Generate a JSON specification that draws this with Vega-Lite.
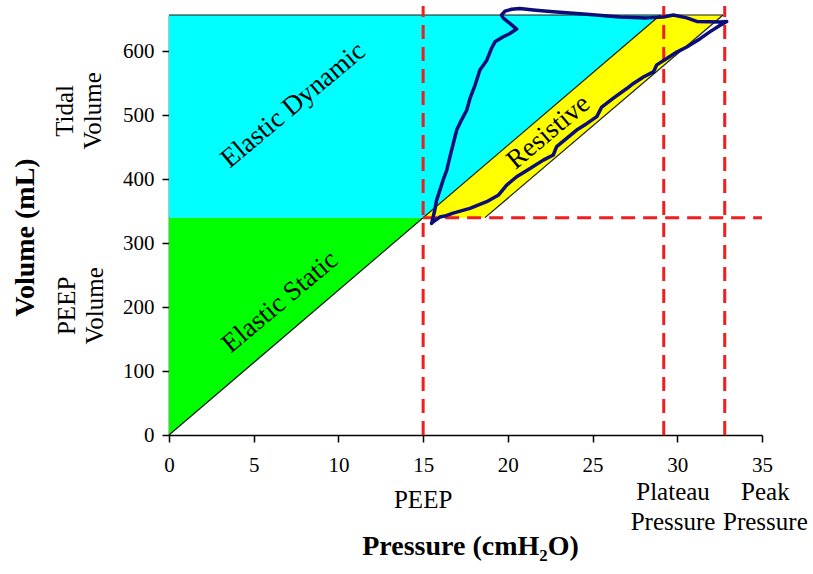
{
  "$schema": "https://vega.github.io/schema/vega-lite/v6.json",
  "width": 593,
  "height": 420,
  "autosize": {"type": "none"},
  "padding": {"left": 169, "top": 15, "right": 51, "bottom": 139},
  "background": "white",
  "config": {
    "font": "Liberation Serif",
    "view": {"stroke": null},
    "axis": {
      "grid": false,
      "domainColor": "black",
      "domainWidth": 1.5,
      "tickColor": "black",
      "tickWidth": 1.5,
      "tickSize": 7,
      "labelFont": "Liberation Serif",
      "labelFontSize": 21,
      "labelColor": "black",
      "labelFlush": false,
      "titleFont": "Liberation Serif",
      "titleFontSize": 28,
      "titleFontWeight": "bold",
      "titleColor": "black"
    }
  },
  "datasets": {
    "regions": [
      {"r": "static", "v": 0, "lo": 0, "hi": 0},
      {"r": "static", "v": 340, "lo": 0, "hi": 15},
      {"r": "dynamic", "v": 340, "lo": 0, "hi": 15},
      {"r": "dynamic", "v": 657, "lo": 0, "hi": 29},
      {"r": "resistive", "v": 340, "lo": 15, "hi": 18.65},
      {"r": "resistive", "v": 657, "lo": 29, "hi": 32.7}
    ],
    "outlines": [
      {"x": 0, "y": 0, "x2": 29, "y2": 657},
      {"x": 0, "y": 657, "x2": 32.7, "y2": 657},
      {"x": 18.65, "y": 340, "x2": 32.7, "y2": 657}
    ],
    "dashes": [
      {"x": 15, "y": 0, "x2": 15, "y2": 671},
      {"x": 29.2, "y": 0, "x2": 29.2, "y2": 671},
      {"x": 32.8, "y": 0, "x2": 32.8, "y2": 671},
      {"x": 15, "y": 340, "x2": 35, "y2": 340}
    ],
    "loop": [
      {"i": 1, "p": 15.50, "v": 331},
      {"i": 2, "p": 15.69, "v": 352},
      {"i": 3, "p": 15.79, "v": 367},
      {"i": 4, "p": 15.99, "v": 383},
      {"i": 5, "p": 16.18, "v": 399},
      {"i": 6, "p": 16.39, "v": 414},
      {"i": 7, "p": 16.58, "v": 435},
      {"i": 8, "p": 16.78, "v": 456},
      {"i": 9, "p": 16.98, "v": 477},
      {"i": 10, "p": 17.27, "v": 493},
      {"i": 11, "p": 17.57, "v": 508},
      {"i": 12, "p": 17.76, "v": 526},
      {"i": 13, "p": 18.06, "v": 547},
      {"i": 14, "p": 18.35, "v": 571},
      {"i": 15, "p": 18.75, "v": 586},
      {"i": 16, "p": 19.04, "v": 605},
      {"i": 17, "p": 19.24, "v": 615},
      {"i": 18, "p": 19.73, "v": 623},
      {"i": 19, "p": 20.12, "v": 628},
      {"i": 20, "p": 20.52, "v": 635},
      {"i": 21, "p": 20.12, "v": 644},
      {"i": 22, "p": 19.73, "v": 652},
      {"i": 23, "p": 19.63, "v": 657},
      {"i": 24, "p": 19.83, "v": 663},
      {"i": 25, "p": 20.22, "v": 666},
      {"i": 26, "p": 20.71, "v": 667},
      {"i": 27, "p": 21.50, "v": 665},
      {"i": 28, "p": 22.68, "v": 662},
      {"i": 29, "p": 24.65, "v": 658},
      {"i": 30, "p": 26.62, "v": 654},
      {"i": 31, "p": 28.20, "v": 652.5},
      {"i": 32, "p": 29.18, "v": 654},
      {"i": 33, "p": 29.77, "v": 657},
      {"i": 34, "p": 30.56, "v": 652.5},
      {"i": 35, "p": 31.15, "v": 647},
      {"i": 36, "p": 32.53, "v": 646},
      {"i": 37, "p": 32.92, "v": 647},
      {"i": 38, "p": 32.53, "v": 641},
      {"i": 39, "p": 31.94, "v": 631},
      {"i": 40, "p": 31.35, "v": 620},
      {"i": 41, "p": 30.56, "v": 607},
      {"i": 42, "p": 29.97, "v": 599},
      {"i": 43, "p": 29.38, "v": 589},
      {"i": 44, "p": 28.79, "v": 579},
      {"i": 45, "p": 28.59, "v": 568},
      {"i": 46, "p": 28.00, "v": 560},
      {"i": 47, "p": 27.41, "v": 550},
      {"i": 48, "p": 27.02, "v": 542},
      {"i": 49, "p": 26.23, "v": 527},
      {"i": 50, "p": 25.54, "v": 513},
      {"i": 51, "p": 25.25, "v": 498},
      {"i": 52, "p": 24.65, "v": 487},
      {"i": 53, "p": 24.06, "v": 477},
      {"i": 54, "p": 23.47, "v": 464},
      {"i": 55, "p": 22.88, "v": 451},
      {"i": 56, "p": 22.68, "v": 438},
      {"i": 57, "p": 22.09, "v": 430},
      {"i": 58, "p": 21.31, "v": 417},
      {"i": 59, "p": 20.52, "v": 404},
      {"i": 60, "p": 19.93, "v": 391},
      {"i": 61, "p": 19.43, "v": 375},
      {"i": 62, "p": 18.75, "v": 365},
      {"i": 63, "p": 17.76, "v": 354.5},
      {"i": 64, "p": 16.77, "v": 347},
      {"i": 65, "p": 16.28, "v": 342.5},
      {"i": 66, "p": 15.99, "v": 341},
      {"i": 67, "p": 15.59, "v": 333.5},
      {"i": 68, "p": 15.50, "v": 331}
    ],
    "regionLabels": [
      {"t": "Elastic Dynamic", "x": 7.33, "y": 516},
      {"t": "Elastic Static", "x": 6.55, "y": 208},
      {"t": "Resistive", "x": 22.39, "y": 474}
    ],
    "bottomLabels": [
      {"t": "PEEP", "x": 15, "y": -102},
      {"t": "Plateau\nPressure", "x": 29.75, "y": -89},
      {"t": "Peak\nPressure", "x": 35.2, "y": -89}
    ],
    "sideLabels": [
      {"t": "Tidal\nVolume", "x": -6.16, "y": 507},
      {"t": "PEEP\nVolume", "x": -6.0, "y": 202}
    ]
  },
  "encoding": {
    "x": {"type": "quantitative", "scale": {"domain": [0, 35], "nice": false, "zero": false}},
    "y": {"type": "quantitative", "scale": {"domain": [0, 657], "nice": false, "zero": false}}
  },
  "layer": [
    {
      "data": {"name": "regions"},
      "mark": {"type": "area", "orient": "horizontal", "opacity": 1},
      "encoding": {
        "y": {"field": "v", "type": "quantitative", "scale": {"domain": [0, 657], "nice": false}, "axis": {"values": [0, 100, 200, 300, 400, 500, 600], "labelFont": "Liberation Serif", "labelFlush": false, "labelPadding": 8, "title": "Volume (mL)", "titleAngle": 270, "titleAlign": "center", "titleBaseline": "middle", "titleX": -144, "titleY": 222}},
        "x": {"field": "lo", "type": "quantitative", "scale": {"domain": [0, 35], "nice": false}, "axis": {"values": [0, 5, 10, 15, 20, 25, 30, 35], "labelFont": "Liberation Serif", "labelFlush": false, "labelPadding": 12, "title": "Pressure (cmH₂O)", "titleAlign": "center", "titleBaseline": "alphabetic", "titleX": 301, "titleY": 119}},
        "x2": {"field": "hi"},
        "color": {"field": "r", "type": "nominal", "scale": {"domain": ["static", "dynamic", "resistive"], "range": ["#00ff00", "#00ffff", "#ffff00"]}, "legend": null}
      }
    },
    {
      "data": {"name": "outlines"},
      "mark": {"type": "rule", "color": "#1a1a1a", "strokeWidth": 1.2},
      "encoding": {
        "x": {"field": "x", "type": "quantitative"},
        "y": {"field": "y", "type": "quantitative"},
        "x2": {"field": "x2"},
        "y2": {"field": "y2"}
      }
    },
    {
      "data": {"name": "dashes"},
      "mark": {"type": "rule", "color": "#f01e1e", "strokeWidth": 3, "strokeDash": [14, 8]},
      "encoding": {
        "x": {"field": "x", "type": "quantitative"},
        "y": {"field": "y", "type": "quantitative"},
        "x2": {"field": "x2"},
        "y2": {"field": "y2"}
      }
    },
    {
      "data": {"name": "loop"},
      "mark": {"type": "line", "color": "#0c0c7a", "strokeWidth": 3.5, "strokeJoin": "round", "strokeCap": "round"},
      "encoding": {
        "x": {"field": "p", "type": "quantitative"},
        "y": {"field": "v", "type": "quantitative"},
        "order": {"field": "i", "type": "quantitative"}
      }
    },
    {
      "data": {"name": "regionLabels"},
      "mark": {"type": "text", "angle": 320, "align": "center", "baseline": "middle", "fontSize": 27, "font": "Liberation Serif", "color": "black"},
      "encoding": {
        "x": {"field": "x", "type": "quantitative"},
        "y": {"field": "y", "type": "quantitative"},
        "text": {"field": "t"}
      }
    },
    {
      "data": {"name": "bottomLabels"},
      "mark": {"type": "text", "align": "center", "baseline": "middle", "fontSize": 25, "lineBreak": "\n", "lineHeight": 30, "font": "Liberation Serif", "color": "black"},
      "encoding": {
        "x": {"field": "x", "type": "quantitative"},
        "y": {"field": "y", "type": "quantitative"},
        "text": {"field": "t"}
      }
    },
    {
      "data": {"name": "sideLabels"},
      "mark": {"type": "text", "angle": 270, "align": "center", "baseline": "middle", "fontSize": 25, "lineBreak": "\n", "lineHeight": 28, "font": "Liberation Serif", "color": "black"},
      "encoding": {
        "x": {"field": "x", "type": "quantitative"},
        "y": {"field": "y", "type": "quantitative"},
        "text": {"field": "t"}
      }
    }
  ]
}
